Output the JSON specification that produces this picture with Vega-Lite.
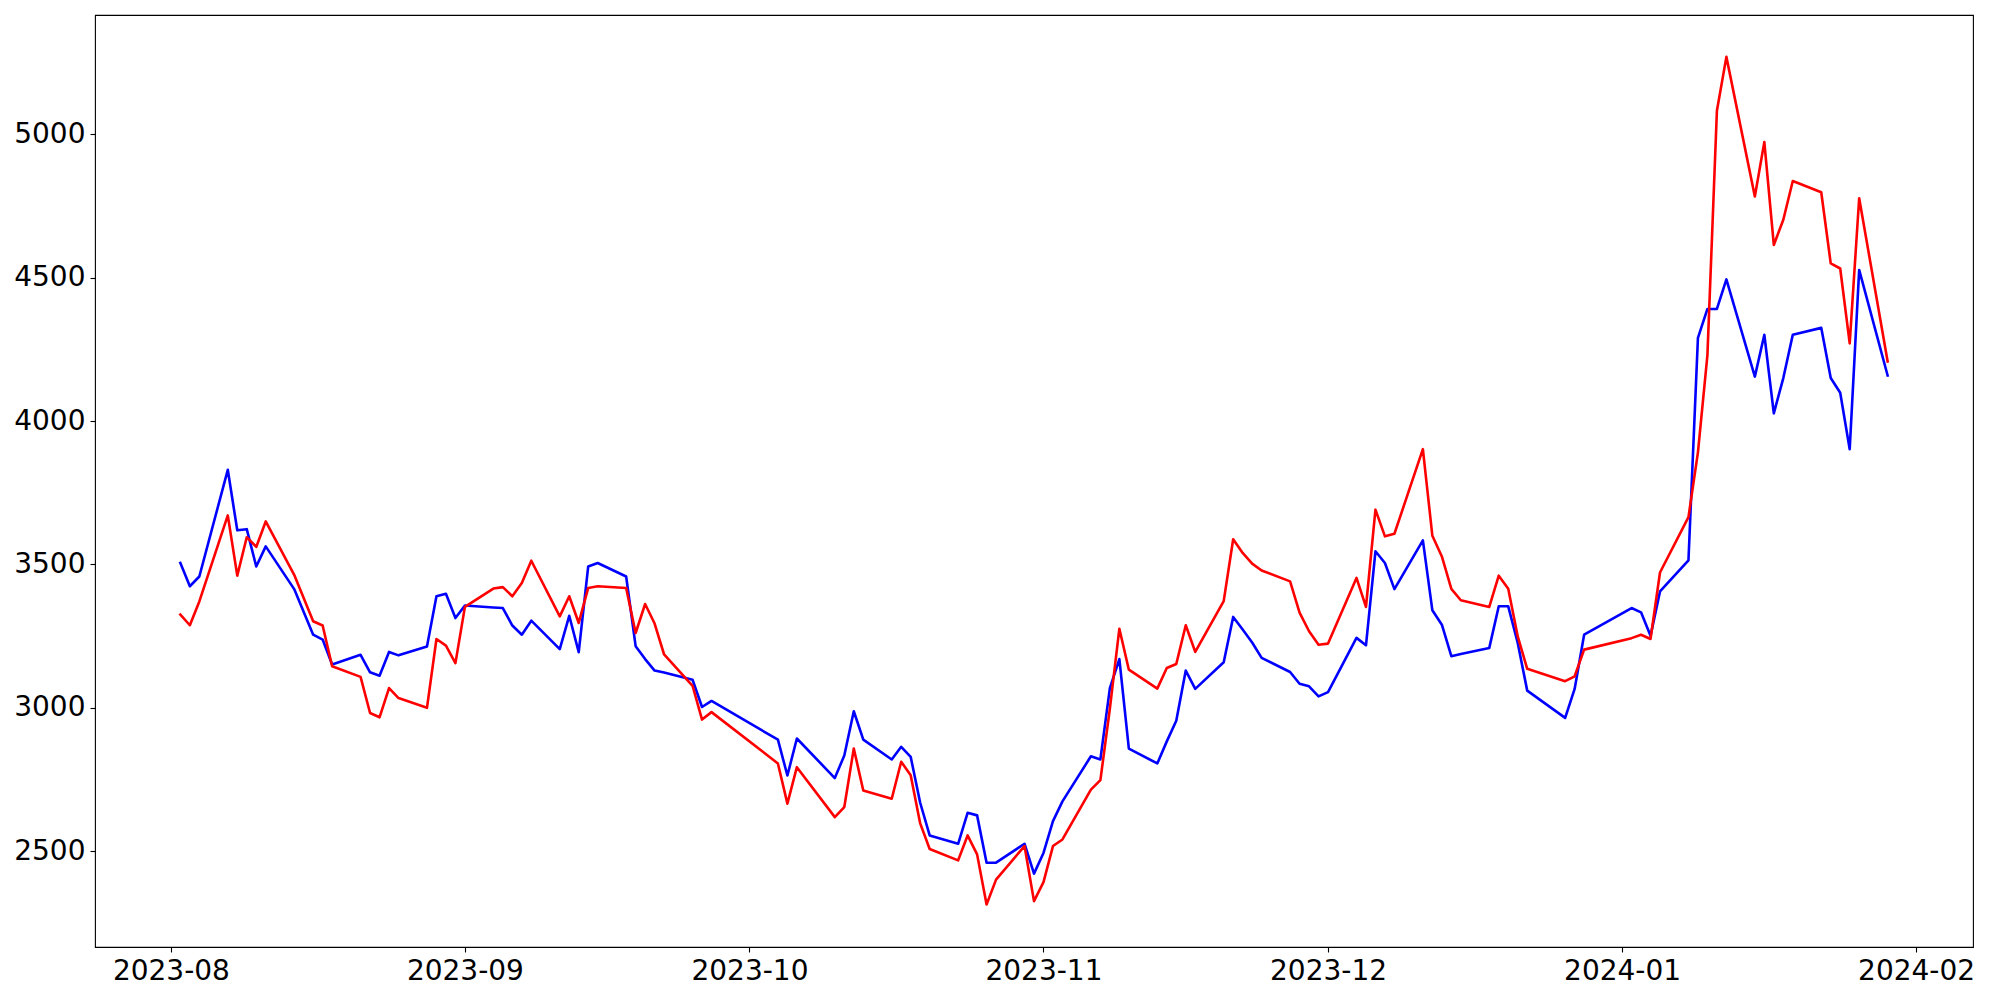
{
  "$schema": "https://vega.github.io/schema/vega-lite/v6.json",
  "width": 1878,
  "height": 932,
  "autosize": {"type": "none"},
  "padding": {"left": 95, "top": 15, "right": 27, "bottom": 53},
  "background": "white",
  "config": {
    "view": {"stroke": "black", "strokeWidth": 1.1},
    "axis": {
      "domain": false,
      "grid": false,
      "ticks": true,
      "tickColor": "black",
      "tickSize": 5,
      "tickWidth": 1.1,
      "labelFont": "DejaVu Sans",
      "labelFontSize": 28,
      "labelColor": "black",
      "labelPadding": 5,
      "title": null
    }
  },
  "datasets": {
    "blue": [
      {"date": "2023-08-02", "value": 3505}, {"date": "2023-08-03", "value": 3424}, {"date": "2023-08-04", "value": 3458},
      {"date": "2023-08-07", "value": 3830}, {"date": "2023-08-08", "value": 3619}, {"date": "2023-08-09", "value": 3623},
      {"date": "2023-08-10", "value": 3493}, {"date": "2023-08-11", "value": 3563}, {"date": "2023-08-14", "value": 3414},
      {"date": "2023-08-16", "value": 3255}, {"date": "2023-08-17", "value": 3238}, {"date": "2023-08-18", "value": 3151},
      {"date": "2023-08-21", "value": 3185}, {"date": "2023-08-22", "value": 3124}, {"date": "2023-08-23", "value": 3112},
      {"date": "2023-08-24", "value": 3195}, {"date": "2023-08-25", "value": 3183}, {"date": "2023-08-28", "value": 3214},
      {"date": "2023-08-29", "value": 3389}, {"date": "2023-08-30", "value": 3398}, {"date": "2023-08-31", "value": 3313},
      {"date": "2023-09-01", "value": 3357}, {"date": "2023-09-04", "value": 3350}, {"date": "2023-09-05", "value": 3348},
      {"date": "2023-09-06", "value": 3287}, {"date": "2023-09-07", "value": 3255}, {"date": "2023-09-08", "value": 3304},
      {"date": "2023-09-11", "value": 3205}, {"date": "2023-09-12", "value": 3321}, {"date": "2023-09-13", "value": 3194},
      {"date": "2023-09-14", "value": 3493}, {"date": "2023-09-15", "value": 3505}, {"date": "2023-09-18", "value": 3458},
      {"date": "2023-09-19", "value": 3215}, {"date": "2023-09-20", "value": 3170}, {"date": "2023-09-21", "value": 3130},
      {"date": "2023-09-22", "value": 3123}, {"date": "2023-09-25", "value": 3098}, {"date": "2023-09-26", "value": 3003},
      {"date": "2023-09-27", "value": 3024}, {"date": "2023-10-04", "value": 2889}, {"date": "2023-10-05", "value": 2764},
      {"date": "2023-10-06", "value": 2893}, {"date": "2023-10-10", "value": 2755}, {"date": "2023-10-11", "value": 2834},
      {"date": "2023-10-12", "value": 2988}, {"date": "2023-10-13", "value": 2889}, {"date": "2023-10-16", "value": 2820},
      {"date": "2023-10-17", "value": 2864}, {"date": "2023-10-18", "value": 2829}, {"date": "2023-10-19", "value": 2669},
      {"date": "2023-10-20", "value": 2555}, {"date": "2023-10-23", "value": 2526}, {"date": "2023-10-24", "value": 2634},
      {"date": "2023-10-25", "value": 2625}, {"date": "2023-10-26", "value": 2460}, {"date": "2023-10-27", "value": 2460},
      {"date": "2023-10-30", "value": 2526}, {"date": "2023-10-31", "value": 2422}, {"date": "2023-11-01", "value": 2494},
      {"date": "2023-11-02", "value": 2605}, {"date": "2023-11-03", "value": 2674}, {"date": "2023-11-06", "value": 2831},
      {"date": "2023-11-07", "value": 2820}, {"date": "2023-11-08", "value": 3069}, {"date": "2023-11-09", "value": 3170},
      {"date": "2023-11-10", "value": 2858}, {"date": "2023-11-13", "value": 2806}, {"date": "2023-11-14", "value": 2883},
      {"date": "2023-11-15", "value": 2955}, {"date": "2023-11-16", "value": 3130}, {"date": "2023-11-17", "value": 3066},
      {"date": "2023-11-20", "value": 3159}, {"date": "2023-11-21", "value": 3317}, {"date": "2023-11-22", "value": 3273},
      {"date": "2023-11-23", "value": 3228}, {"date": "2023-11-24", "value": 3174}, {"date": "2023-11-27", "value": 3125},
      {"date": "2023-11-28", "value": 3084}, {"date": "2023-11-29", "value": 3075}, {"date": "2023-11-30", "value": 3040},
      {"date": "2023-12-01", "value": 3055}, {"date": "2023-12-04", "value": 3244}, {"date": "2023-12-05", "value": 3218},
      {"date": "2023-12-06", "value": 3546}, {"date": "2023-12-07", "value": 3505}, {"date": "2023-12-08", "value": 3414},
      {"date": "2023-12-11", "value": 3584}, {"date": "2023-12-12", "value": 3340}, {"date": "2023-12-13", "value": 3290},
      {"date": "2023-12-14", "value": 3180}, {"date": "2023-12-15", "value": 3188}, {"date": "2023-12-18", "value": 3209},
      {"date": "2023-12-19", "value": 3354}, {"date": "2023-12-20", "value": 3354}, {"date": "2023-12-21", "value": 3226},
      {"date": "2023-12-22", "value": 3060}, {"date": "2023-12-26", "value": 2965}, {"date": "2023-12-27", "value": 3066},
      {"date": "2023-12-28", "value": 3255}, {"date": "2024-01-02", "value": 3348}, {"date": "2024-01-03", "value": 3333},
      {"date": "2024-01-04", "value": 3251}, {"date": "2024-01-05", "value": 3406}, {"date": "2024-01-08", "value": 3514},
      {"date": "2024-01-09", "value": 4290}, {"date": "2024-01-10", "value": 4391}, {"date": "2024-01-11", "value": 4391},
      {"date": "2024-01-12", "value": 4494}, {"date": "2024-01-15", "value": 4155}, {"date": "2024-01-16", "value": 4301},
      {"date": "2024-01-17", "value": 4027}, {"date": "2024-01-18", "value": 4150}, {"date": "2024-01-19", "value": 4301},
      {"date": "2024-01-22", "value": 4325}, {"date": "2024-01-23", "value": 4150}, {"date": "2024-01-24", "value": 4099},
      {"date": "2024-01-25", "value": 3902}, {"date": "2024-01-26", "value": 4527}, {"date": "2024-01-29", "value": 4159}
    ],
    "red": [
      {"date": "2023-08-02", "value": 3325}, {"date": "2023-08-03", "value": 3288}, {"date": "2023-08-04", "value": 3371},
      {"date": "2023-08-07", "value": 3671}, {"date": "2023-08-08", "value": 3461}, {"date": "2023-08-09", "value": 3595},
      {"date": "2023-08-10", "value": 3561}, {"date": "2023-08-11", "value": 3650}, {"date": "2023-08-14", "value": 3464},
      {"date": "2023-08-16", "value": 3302}, {"date": "2023-08-17", "value": 3287}, {"date": "2023-08-18", "value": 3145},
      {"date": "2023-08-21", "value": 3108}, {"date": "2023-08-22", "value": 2982}, {"date": "2023-08-23", "value": 2967},
      {"date": "2023-08-24", "value": 3069}, {"date": "2023-08-25", "value": 3034}, {"date": "2023-08-28", "value": 3000},
      {"date": "2023-08-29", "value": 3240}, {"date": "2023-08-30", "value": 3217}, {"date": "2023-08-31", "value": 3156},
      {"date": "2023-09-01", "value": 3352}, {"date": "2023-09-04", "value": 3416}, {"date": "2023-09-05", "value": 3421},
      {"date": "2023-09-06", "value": 3389}, {"date": "2023-09-07", "value": 3435}, {"date": "2023-09-08", "value": 3513},
      {"date": "2023-09-11", "value": 3319}, {"date": "2023-09-12", "value": 3389}, {"date": "2023-09-13", "value": 3296},
      {"date": "2023-09-14", "value": 3418}, {"date": "2023-09-15", "value": 3424}, {"date": "2023-09-18", "value": 3418},
      {"date": "2023-09-19", "value": 3261}, {"date": "2023-09-20", "value": 3362}, {"date": "2023-09-21", "value": 3294},
      {"date": "2023-09-22", "value": 3186}, {"date": "2023-09-25", "value": 3077}, {"date": "2023-09-26", "value": 2959},
      {"date": "2023-09-27", "value": 2985}, {"date": "2023-10-04", "value": 2806}, {"date": "2023-10-05", "value": 2666},
      {"date": "2023-10-06", "value": 2793}, {"date": "2023-10-10", "value": 2619}, {"date": "2023-10-11", "value": 2654},
      {"date": "2023-10-12", "value": 2858}, {"date": "2023-10-13", "value": 2712}, {"date": "2023-10-16", "value": 2683},
      {"date": "2023-10-17", "value": 2812}, {"date": "2023-10-18", "value": 2765}, {"date": "2023-10-19", "value": 2597},
      {"date": "2023-10-20", "value": 2508}, {"date": "2023-10-23", "value": 2468}, {"date": "2023-10-24", "value": 2555},
      {"date": "2023-10-25", "value": 2489}, {"date": "2023-10-26", "value": 2314}, {"date": "2023-10-27", "value": 2401},
      {"date": "2023-10-30", "value": 2518}, {"date": "2023-10-31", "value": 2326}, {"date": "2023-11-01", "value": 2392},
      {"date": "2023-11-02", "value": 2518}, {"date": "2023-11-03", "value": 2541}, {"date": "2023-11-06", "value": 2715},
      {"date": "2023-11-07", "value": 2748}, {"date": "2023-11-08", "value": 2997}, {"date": "2023-11-09", "value": 3276},
      {"date": "2023-11-10", "value": 3133}, {"date": "2023-11-13", "value": 3067}, {"date": "2023-11-14", "value": 3139},
      {"date": "2023-11-15", "value": 3153}, {"date": "2023-11-16", "value": 3288}, {"date": "2023-11-17", "value": 3195},
      {"date": "2023-11-20", "value": 3372}, {"date": "2023-11-21", "value": 3588}, {"date": "2023-11-22", "value": 3540},
      {"date": "2023-11-23", "value": 3503}, {"date": "2023-11-24", "value": 3479}, {"date": "2023-11-27", "value": 3441},
      {"date": "2023-11-28", "value": 3332}, {"date": "2023-11-29", "value": 3267}, {"date": "2023-11-30", "value": 3220},
      {"date": "2023-12-01", "value": 3224}, {"date": "2023-12-04", "value": 3453}, {"date": "2023-12-05", "value": 3352},
      {"date": "2023-12-06", "value": 3691}, {"date": "2023-12-07", "value": 3598}, {"date": "2023-12-08", "value": 3607},
      {"date": "2023-12-11", "value": 3902}, {"date": "2023-12-12", "value": 3600}, {"date": "2023-12-13", "value": 3528},
      {"date": "2023-12-14", "value": 3415}, {"date": "2023-12-15", "value": 3375}, {"date": "2023-12-18", "value": 3352},
      {"date": "2023-12-19", "value": 3461}, {"date": "2023-12-20", "value": 3415}, {"date": "2023-12-21", "value": 3249},
      {"date": "2023-12-22", "value": 3136}, {"date": "2023-12-26", "value": 3093}, {"date": "2023-12-27", "value": 3110},
      {"date": "2023-12-28", "value": 3203}, {"date": "2024-01-02", "value": 3243}, {"date": "2024-01-03", "value": 3255},
      {"date": "2024-01-04", "value": 3240}, {"date": "2024-01-05", "value": 3472}, {"date": "2024-01-08", "value": 3665},
      {"date": "2024-01-09", "value": 3891}, {"date": "2024-01-10", "value": 4230}, {"date": "2024-01-11", "value": 5082},
      {"date": "2024-01-12", "value": 5270}, {"date": "2024-01-15", "value": 4783}, {"date": "2024-01-16", "value": 4973},
      {"date": "2024-01-17", "value": 4614}, {"date": "2024-01-18", "value": 4702}, {"date": "2024-01-19", "value": 4837},
      {"date": "2024-01-22", "value": 4798}, {"date": "2024-01-23", "value": 4550}, {"date": "2024-01-24", "value": 4532},
      {"date": "2024-01-25", "value": 4271}, {"date": "2024-01-26", "value": 4777}, {"date": "2024-01-29", "value": 4208}
    ]
  },
  "encoding": {
    "x": {
      "field": "date",
      "type": "temporal",
      "scale": {
        "type": "utc",
        "domain": [
          {"year": 2023, "month": 7, "date": 24, "utc": true},
          {"year": 2024, "month": 2, "date": 7, "utc": true}
        ]
      },
      "axis": {
        "format": "%Y-%m",
        "labelFlush": false,
        "labelOverlap": false,
        "values": [
          {"year": 2023, "month": 8, "date": 1, "utc": true},
          {"year": 2023, "month": 9, "date": 1, "utc": true},
          {"year": 2023, "month": 10, "date": 1, "utc": true},
          {"year": 2023, "month": 11, "date": 1, "utc": true},
          {"year": 2023, "month": 12, "date": 1, "utc": true},
          {"year": 2024, "month": 1, "date": 1, "utc": true},
          {"year": 2024, "month": 2, "date": 1, "utc": true}
        ]
      }
    },
    "y": {
      "field": "value",
      "type": "quantitative",
      "scale": {"domain": [2166, 5416], "nice": false, "zero": false},
      "axis": {"values": [2500, 3000, 3500, 4000, 4500, 5000], "format": "d", "labelFlush": false}
    }
  },
  "layer": [
    {
      "data": {"name": "blue"},
      "mark": {"type": "line", "color": "#0000ff", "strokeWidth": 2.6, "strokeJoin": "round", "strokeCap": "square", "clip": true}
    },
    {
      "data": {"name": "red"},
      "mark": {"type": "line", "color": "#ff0000", "strokeWidth": 2.6, "strokeJoin": "round", "strokeCap": "square", "clip": true}
    }
  ]
}
